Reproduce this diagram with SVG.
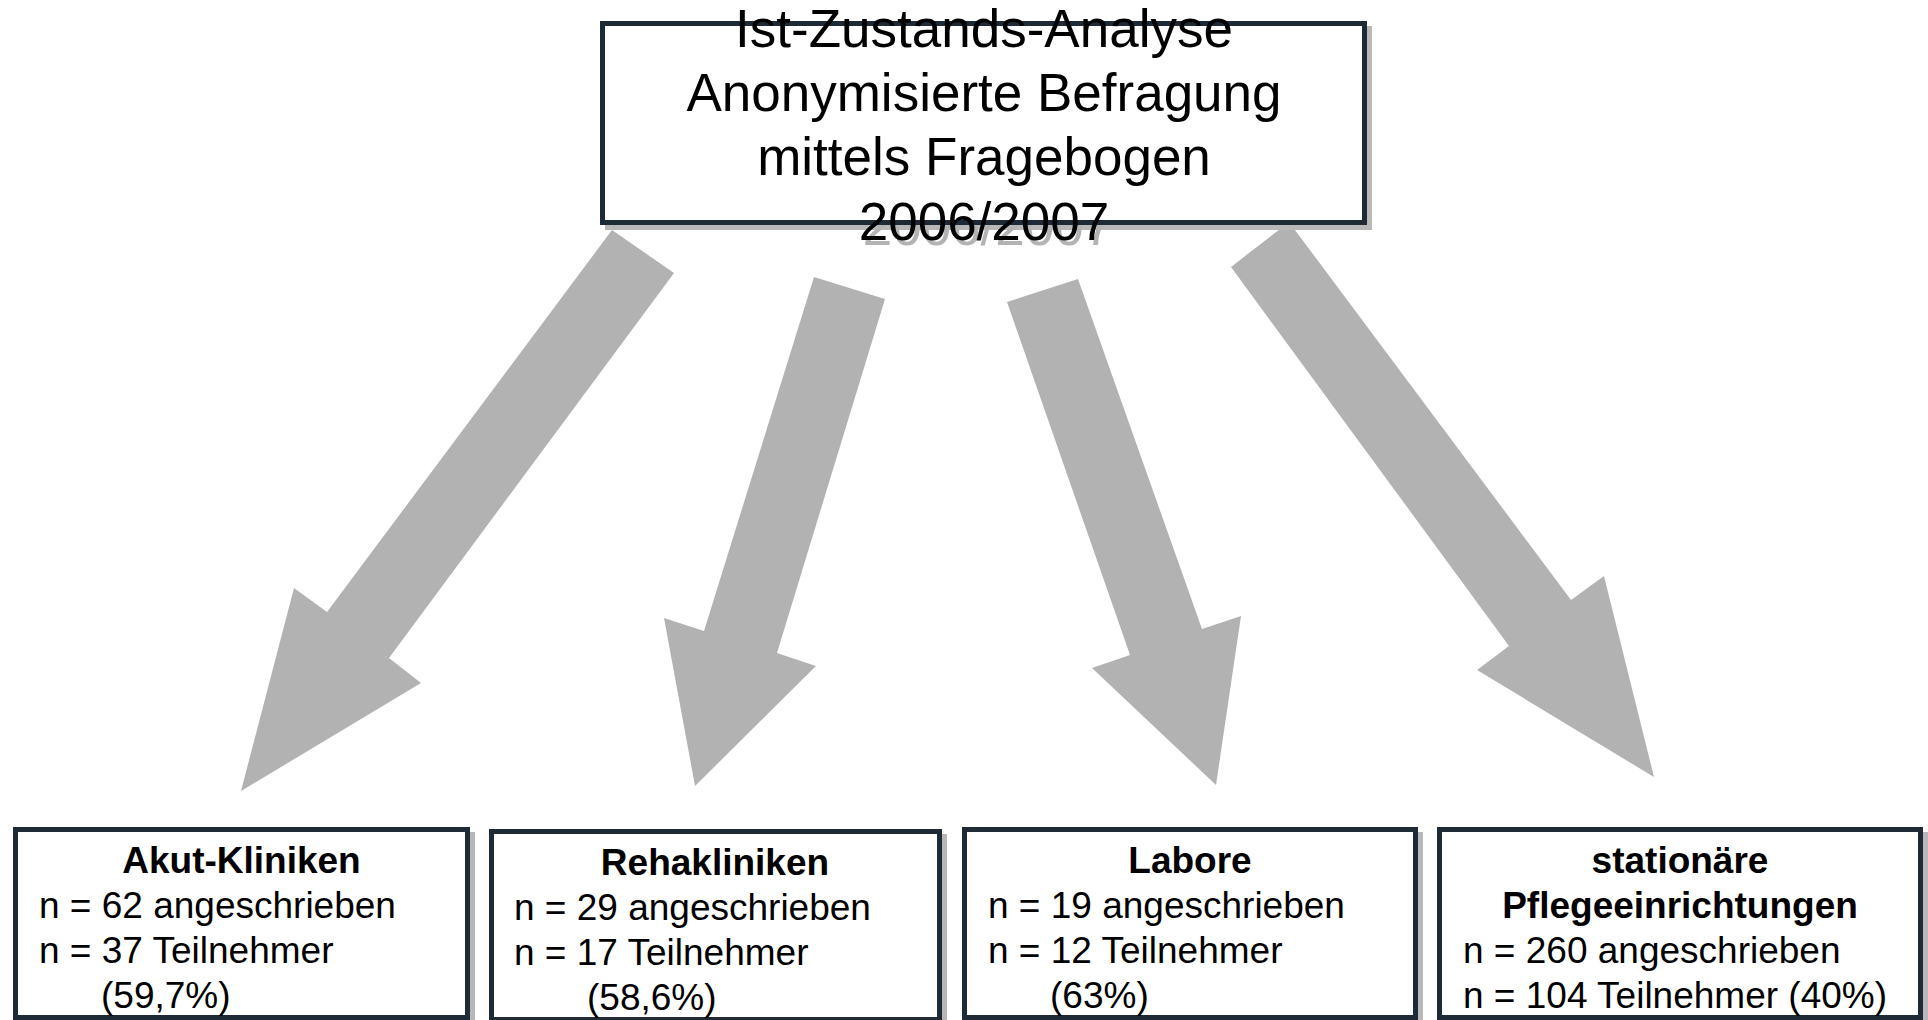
<svg xmlns="http://www.w3.org/2000/svg" width="1928" height="1020" viewBox="0 0 1928 1020">
<style>
.bg{fill:#ffffff}
.arrow{fill:#b2b2b2}
.shadow{fill:#b8b8b8}
.box{fill:#ffffff;stroke:#1e2a36;stroke-width:5}
.title{font-family:"Liberation Sans",Arial,sans-serif;font-size:53px;fill:#000;text-anchor:middle}
.tshadow{font-family:"Liberation Sans",Arial,sans-serif;font-size:53px;fill:#b3b3b3;text-anchor:middle}
.head{font-family:"Liberation Sans",Arial,sans-serif;font-size:37px;font-weight:bold;fill:#000;text-anchor:middle}
.line{font-family:"Liberation Sans",Arial,sans-serif;font-size:37px;fill:#000}
</style>
<defs>
<clipPath id="belowTop"><rect x="0" y="225" width="1928" height="40"/></clipPath>
</defs>
<rect class="bg" x="0" y="0" width="1928" height="1020"/>
<g id="connectors">
<polygon class="arrow" points="612,230 674,273 389,658 421,683 241,791 294,588 327,612"/>
<polygon class="arrow" points="814,277 885,299 777,653 816,666 695,786 664,618 704,631"/>
<polygon class="arrow" points="1007,302 1078,279 1202,629 1241,616 1216,785 1092,668 1130,655"/>
<polygon class="arrow" points="1231,267 1289,222 1571,600 1604,576 1654,777 1477,670 1509,646"/>
</g>
<g id="top">
<rect class="shadow" x="605" y="26" width="767" height="204"/>
<text class="tshadow" x="988" y="245" clip-path="url(#belowTop)">2006/2007</text>
<rect class="box" x="602.5" y="23.5" width="762" height="199"/>
<text class="title" x="984" y="47">Ist-Zustands-Analyse</text>
<text class="title" x="984" y="111">Anonymisierte Befragung</text>
<text class="title" x="984" y="175">mittels Fragebogen</text>
<text class="title" x="984" y="240">2006/2007</text>
</g>
<g id="akut">
<rect class="shadow" x="18" y="832" width="457" height="193"/>
<rect class="box" x="15.5" y="829.5" width="452" height="188"/>
<text class="head" x="241.5" y="873">Akut-Kliniken</text>
<text class="line" x="39" y="918">n = 62 angeschrieben</text>
<text class="line" x="39" y="963">n = 37 Teilnehmer</text>
<text class="line" x="101" y="1008">(59,7%)</text>
</g>
<g id="reha">
<rect class="shadow" x="494" y="834" width="453" height="191"/>
<rect class="box" x="491.5" y="831.5" width="448" height="188"/>
<text class="head" x="715" y="875">Rehakliniken</text>
<text class="line" x="514" y="920">n = 29 angeschrieben</text>
<text class="line" x="514" y="965">n = 17 Teilnehmer</text>
<text class="line" x="587" y="1010">(58,6%)</text>
</g>
<g id="labore">
<rect class="shadow" x="967" y="832" width="456" height="193"/>
<rect class="box" x="964.5" y="829.5" width="451" height="188"/>
<text class="head" x="1190" y="873">Labore</text>
<text class="line" x="988" y="918">n = 19 angeschrieben</text>
<text class="line" x="988" y="963">n = 12 Teilnehmer</text>
<text class="line" x="1050" y="1008">(63%)</text>
</g>
<g id="pflege">
<rect class="shadow" x="1442" y="832" width="486" height="193"/>
<rect class="box" x="1439.5" y="829.5" width="481" height="188"/>
<text class="head" x="1680" y="873">stationäre</text>
<text class="head" x="1680" y="918">Pflegeeinrichtungen</text>
<text class="line" x="1463" y="963">n = 260 angeschrieben</text>
<text class="line" x="1463" y="1008">n = 104 Teilnehmer (40%)</text>
</g>
</svg>
